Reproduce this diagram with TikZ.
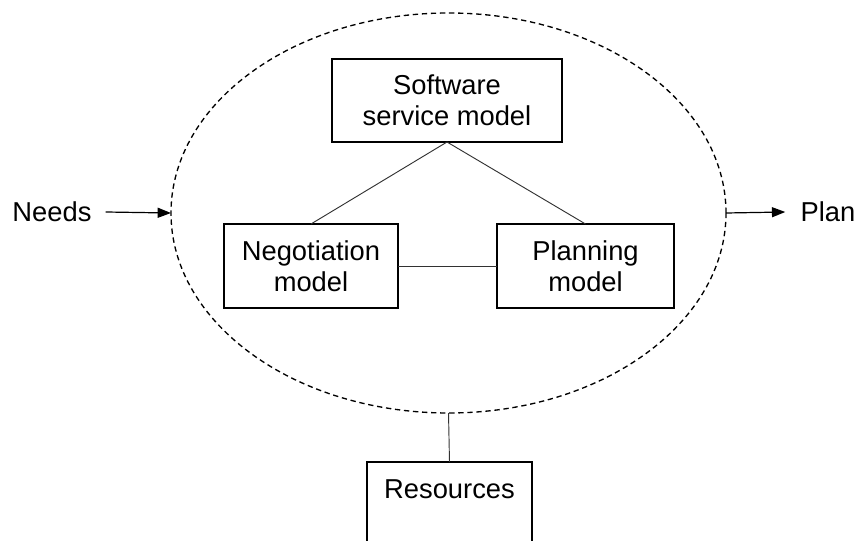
\documentclass[tikz,border=0pt]{standalone}
\usepackage{fontspec}
\setmainfont{Liberation Sans}
\usepackage{tikz}
\usetikzlibrary{arrows.meta,shapes.geometric}

\tikzset{
  modelbox/.style={draw, line width=0.9pt, inner sep=0pt, outer sep=0pt, align=center},
  tip/.style={-{Triangle[length=10pt,width=7.5pt]}, line width=0.9pt},
  link/.style={line width=0.7pt, color={rgb, 255:red, 50; green, 50; blue, 50}},
}

\begin{document}
\begin{tikzpicture}[x=0.75pt,y=0.75pt,yscale=-1,xscale=1,font=\fontsize{20.5}{23.5}\selectfont]
\useasboundingbox (0,0) rectangle (860,541);

%Ellipse [id:core]
\node (core) [ellipse, draw, dash pattern={on 4pt off 2.8pt}, line width=1pt, inner sep=0pt, outer sep=0pt, minimum width=416.25pt, minimum height=300pt] at (448.5,213) {};

%Shapes: Rectangle [id:soft]
\node (soft) [modelbox, minimum width=172.5pt, minimum height=62.25pt] at (447,100.5) {Software\\service model};
%Shapes: Rectangle [id:neg]
\node (neg) [modelbox, minimum width=130.5pt, minimum height=63pt] at (311,266) {Negotiation\\model};
%Shapes: Rectangle [id:plan]
\node (plan) [modelbox, minimum width=132.75pt, minimum height=63pt] at (585.5,266) {Planning\\model};
%Shapes: Rectangle [id:resbox]
\node (resbox) [modelbox, minimum width=123.75pt, minimum height=75pt] at (449.5,512) {};

% Text Node
\node (restext) at (449.5,489) {Resources};
% Text Node
\node (needs) at (52,212) {Needs};
% Text Node
\node (out) at (828,212) {Plan};

%Straight Lines
\draw [link] (soft.south) -- (neg.north);
\draw [link] (soft.south) -- (plan.north);
\draw [link] (neg.east) -- (plan.west);
\draw [link] (core.south) -- (resbox.north);

%Arrows
\draw [tip] ([xshift=7pt]needs.east) -- (core.west);
\draw [tip] (core.east) -- ([xshift=-8pt]out.west);

\end{tikzpicture}
\end{document}
